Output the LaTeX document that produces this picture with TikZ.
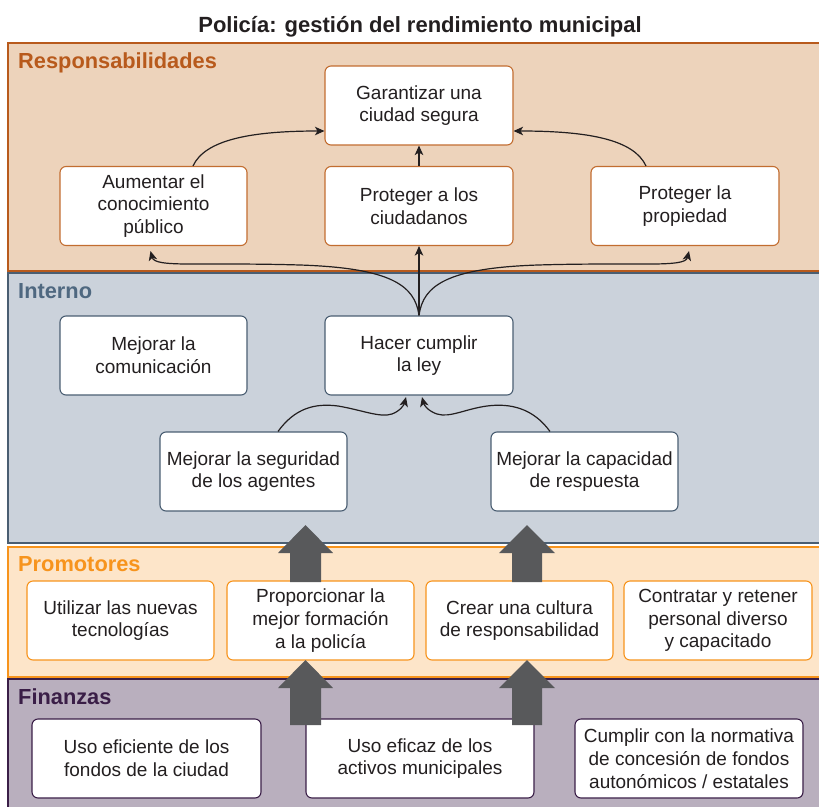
\documentclass[tikz,border=0pt]{standalone}
\usepackage{fontspec}
\setmainfont{Liberation Sans}
\usetikzlibrary{arrows.meta,calc}
\definecolor{respFill}{HTML}{EDD3BB}
\definecolor{respLine}{HTML}{B85A1C}
\definecolor{respBox}{HTML}{C26D30}
\definecolor{intFill}{HTML}{CBD2DB}
\definecolor{intLine}{HTML}{4A5E72}
\definecolor{intLabel}{HTML}{4F6880}
\definecolor{proFill}{HTML}{FDE5C9}
\definecolor{proLine}{HTML}{F7941D}
\definecolor{finFill}{HTML}{B9AFBE}
\definecolor{finLine}{HTML}{3A1E47}
\definecolor{txt}{HTML}{231F20}
\definecolor{blk}{HTML}{58595B}
\begin{document}
\begin{tikzpicture}[x=1pt,y=-1pt,
  nbox/.style={draw, fill=white, rounded corners=6pt, line width=1.1pt, align=center,
    minimum width=187pt, minimum height=79pt, inner sep=0pt, text=txt,
    font=\fontsize{19}{22.8}\selectfont},
  rbox/.style={nbox, draw=respBox},
  ibox/.style={nbox, draw=intLine},
  pbox/.style={nbox, draw=proLine},
  fbox/.style={nbox, draw=finLine, minimum width=228pt},
  band/.style={line width=1.6pt, line join=miter},
  lab/.style={anchor=base west, inner sep=0pt, font=\fontsize{21.8}{26}\selectfont\bfseries},
  con/.style={draw=txt, line width=1.2pt, -{Stealth[length=9.5pt,width=8.5pt,inset=2.5pt]}},
  bigarrow/.style={fill=blk}
]
\useasboundingbox (0,0) rectangle (819,806);

% title
\node[anchor=base, inner sep=0pt, text=txt, font=\fontsize{22}{26}\selectfont\bfseries] (title) at (420,32) {Policía: gestión del rendimiento municipal};

% bands
\fill[respFill] (8,43) rectangle (830,271);
\draw[band, respLine] (830,43) -- (8,43) -- (8,271) -- (830,271);
\fill[intFill] (8,273) rectangle (830,543);
\draw[band, intLine] (830,273) -- (8,273) -- (8,543) -- (830,543);
\fill[proFill] (8,547) rectangle (830,677);
\draw[band, proLine] (830,547) -- (8,547) -- (8,677) -- (830,677);
\fill[finFill] (8,679) rectangle (830,815);
\draw[band, finLine] (830,679) -- (8,679) -- (8,815);

\node[lab, text=respLine] (lresp) at (18,68) {Responsabilidades};
\node[lab, text=intLabel] (lint) at (18,298) {Interno};
\node[lab, text=proLine] (lpro) at (18,571) {Promotores};
\node[lab, text=finLine] (lfin) at (18,704) {Finanzas};

% Responsabilidades
\node[rbox, minimum width=188pt] (gar) at (419,105.5) {Garantizar una\\ciudad segura};
\node[rbox] (aum) at (153.5,206) {Aumentar el\\conocimiento\\público};
\node[rbox, minimum width=188pt] (pciu) at (419,206) {Proteger a los\\ciudadanos};
\node[rbox, minimum width=188pt] (pprop) at (685,206) {Proteger la\\propiedad};

% Interno
\node[ibox] (mcom) at (153.5,355.5) {Mejorar la\\comunicación};
\node[ibox, minimum width=188pt] (hcl) at (419,355.5) {Hacer cumplir\\la ley};
\node[ibox] (mseg) at (253.5,471.5) {Mejorar la seguridad\\de los agentes};
\node[ibox] (mcap) at (584.5,471.5) {Mejorar la capacidad\\de respuesta};

% Promotores
\node[pbox] (util) at (120.5,620.5) {Utilizar las nuevas\\tecnologías};
\node[pbox] (prop) at (320.5,620.5) {Proporcionar la\\mejor formación\\a la policía};
\node[pbox] (crear) at (519.5,620.5) {Crear una cultura\\de responsabilidad};
\node[pbox, minimum width=188pt] (contr) at (718,620.5) {Contratar y retener\\personal diverso\\y capacitado};

% Finanzas
\node[fbox, minimum width=229pt] (uef) at (146.5,758.5) {Uso eficiente de los\\fondos de la ciudad};
\node[fbox] (uez) at (420,758.5) {Uso eficaz de los\\activos municipales};
\node[fbox] (cump) at (689,758.5) {Cumplir con la normativa\\de concesión de fondos\\autonómicos / estatales};

% block arrows
\fill[bigarrow] (290,582) -- (290,553) -- (278,553) -- (305.5,525) -- (333,553) -- (321,553) -- (321,582) -- cycle;
\fill[bigarrow] (512,582) -- (512,553) -- (499,553) -- (527,525) -- (555,553) -- (542,553) -- (542,582) -- cycle;
\fill[bigarrow] (290,725) -- (290,688) -- (278,688) -- (305.5,660) -- (333,688) -- (321,688) -- (321,725) -- cycle;
\fill[bigarrow] (512,725) -- (512,688) -- (499,688) -- (527,660) -- (555,688) -- (542,688) -- (542,725) -- cycle;

% connectors in Responsabilidades
\draw[con] ([xshift=39.5pt]aum.north) .. controls (205,140) and (250,131) .. ([yshift=-25.5pt]gar.west);
\draw[con] ([xshift=-39pt]pprop.north) .. controls (634,140) and (590,131) .. ([yshift=-25.5pt]gar.east);
\draw[con] (pciu.north) -- (gar.south);

% connectors from Hacer cumplir la ley
\draw[con] (hcl.north) -- (pciu.south);
\draw[con] (hcl.north) .. controls (415,285) and (390,268) .. (300,265) .. controls (200,262) and (155,268) .. ([xshift=-3pt,yshift=-5pt]aum.south);
\draw[con] (hcl.north) .. controls (423,285) and (448,268) .. (538,265) .. controls (638,262) and (685,268) .. ([xshift=4pt,yshift=-5pt]pprop.south);

% connectors into Hacer cumplir la ley
\draw[con] ([xshift=24.5pt]mseg.north) .. controls (295,408) and (315,403) .. (338,406) .. controls (362,410) and (380,418) .. (392,414) .. controls (400,411) and (404,405) .. ([xshift=-13pt,yshift=-1.5pt]hcl.south);
\draw[con] ([xshift=-34.5pt]mcap.north) .. controls (533,408) and (510,403) .. (487,406) .. controls (465,409) and (450,418) .. (437,414) .. controls (428,411) and (424,405) .. ([xshift=3pt,yshift=-1.5pt]hcl.south);
\end{tikzpicture}
\end{document}
